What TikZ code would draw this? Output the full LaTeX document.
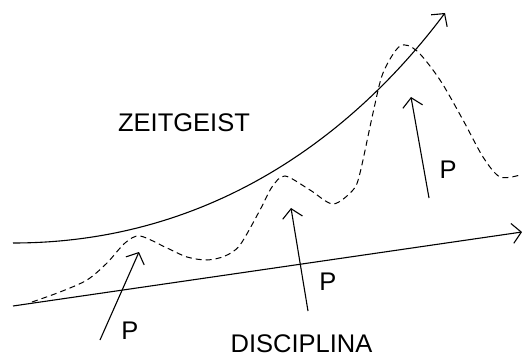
\documentclass[tikz,border=0pt]{standalone}
\usepackage{fontspec}
\setmainfont{Liberation Sans}
\usetikzlibrary{arrows.meta}
\begin{document}
\begin{tikzpicture}[x=1pt,y=-1pt,
  line/.style={line width=1.1pt},
  tip/.style={-{Straight Barb[length=9pt,width=20pt,line width=1.1pt]}},
  lab/.style={font=\fontsize{25.5}{28}\selectfont, inner sep=0pt}]
\useasboundingbox (0,0) rectangle (522,358);
% Zeitgeist curve
\coordinate (z0) at (13,243);
\coordinate (z1) at (445,13);
\draw[line,tip] (z0) .. controls (213,243) and (355,133) .. (z1);
% Disciplina line
\coordinate (d0) at (13,306);
\coordinate (d1) at (522,232);
\draw[line,tip] (d0) -- (d1);
% dashed curve
\draw[line width=1pt, dash pattern=on 6pt off 4pt] plot[smooth] coordinates {(32,302) (60,292) (87,280) (107,263) (125,243) (140,236) (167,248) (187,257) (207,260) (225,256) (240,245) (260,210) (272,187) (285,176) (310,190) (333,204) (353,190) (360,173) (373,113) (383,73) (400,46) (417,51) (440,80) (463,120) (483,157) (500,177) (520,175)};
% P arrows
\coordinate (a0) at (100,340); \coordinate (a1) at (139,252);
\coordinate (b0) at (308,311); \coordinate (b1) at (291,208);
\coordinate (c0) at (429,198); \coordinate (c1) at (411,97);
\draw[line,tip] (a0) -- (a1);
\draw[line,tip] (b0) -- (b1);
\draw[line,tip] (c0) -- (c1);
% labels
\node[lab] (p1) at (130,331) {P};
\node[lab] (p2) at (328,282) {P};
\node[lab] (p3) at (448,170) {P};
\node[lab] (zg) at (184,123) {ZEITGEIST};
\node[lab] (dp) at (301.5,344) {DISCIPLINA};
\end{tikzpicture}
\end{document}
